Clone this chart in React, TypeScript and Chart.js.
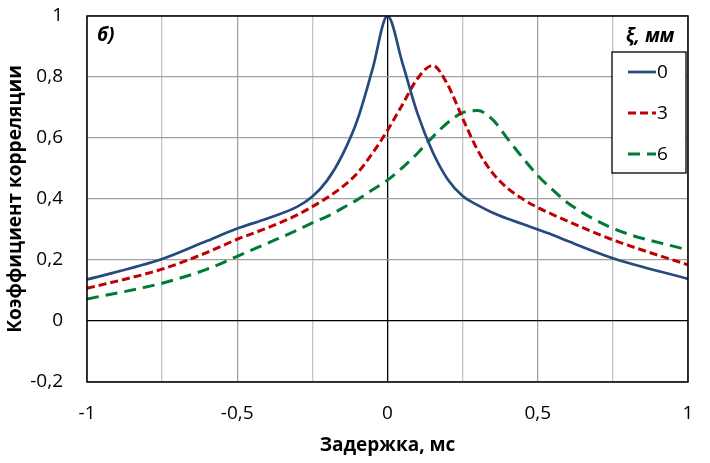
import React, { useRef, useEffect } from 'react';
import { Chart, registerables } from 'chart.js';

Chart.register(...registerables);

// задержка, мс
const delays = [-1, -0.75, -0.6, -0.5, -0.4, -0.3, -0.25, -0.2, -0.15, -0.1, -0.05, 0,
  0.05, 0.1, 0.15, 0.2, 0.25, 0.3, 0.35, 0.4, 0.45, 0.5, 0.55, 0.6, 0.75, 1];

// коэффициент корреляции для xi = 0, 3, 6 мм
const corr0 = [0.136, 0.203, 0.263, 0.303, 0.336, 0.375, 0.408, 0.462, 0.545, 0.66, 0.825, 1.0,
  0.845, 0.68, 0.555, 0.465, 0.41, 0.38, 0.355, 0.335, 0.318, 0.3, 0.282, 0.262, 0.206, 0.138];
const corr3 = [0.107, 0.17, 0.225, 0.268, 0.305, 0.348, 0.375, 0.405, 0.44, 0.485, 0.55, 0.625,
  0.71, 0.795, 0.838, 0.775, 0.665, 0.56, 0.485, 0.435, 0.4, 0.372, 0.349, 0.327, 0.266, 0.184];
const corr6 = [0.072, 0.124, 0.17, 0.212, 0.255, 0.298, 0.322, 0.343, 0.37, 0.398, 0.43, 0.462,
  0.503, 0.55, 0.603, 0.65, 0.683, 0.69, 0.66, 0.597, 0.535, 0.477, 0.43, 0.387, 0.304, 0.232];

const seriesNames = ['0', '3', '6'];
const legendTitle = 'ξ, мм';
const panelLabel = 'б)';
const xTitle = 'Задержка, мс';
const yTitle = 'Коэффициент корреляции';

const FONT = '"Open Sans", "DejaVu Sans", sans-serif';

const fmt = (v: number) => String(Math.round(v * 100) / 100).replace('.', ',');
const isHalfStep = (v: number) => Math.abs(v * 2 - Math.round(v * 2)) < 1e-6;

// рамка области построения
const plotFrame = {
  id: 'plotFrame',
  afterDatasetsDraw(chart: any) {
    const { ctx, chartArea: a } = chart;
    ctx.save();
    ctx.strokeStyle = '#000';
    ctx.lineWidth = 1.5;
    ctx.strokeRect(a.left, a.top, a.right - a.left, a.bottom - a.top);
    ctx.font = `italic bold 19px ${FONT}`;
    ctx.fillStyle = '#000';
    ctx.textBaseline = 'middle';
    ctx.fillText(panelLabel, a.left + 10, a.top + 20);
    ctx.restore();
  },
};

// легенда внутри графика
const insetLegend = {
  id: 'insetLegend',
  afterDraw(chart: any) {
    const { ctx, chartArea: a } = chart;
    const right = a.right - 2;
    const left = right - 74;
    const top = a.top + 36;
    const bottom = a.top + 157;
    ctx.save();
    ctx.fillStyle = '#fff';
    ctx.fillRect(left, top, right - left, bottom - top);
    ctx.strokeStyle = '#000';
    ctx.lineWidth = 1.3;
    ctx.strokeRect(left, top, right - left, bottom - top);
    ctx.fillStyle = '#000';
    ctx.textBaseline = 'middle';
    ctx.textAlign = 'center';
    ctx.font = `italic bold 19px ${FONT}`;
    ctx.fillText(legendTitle, (left + right) / 2 + 1, a.top + 21);
    ctx.font = `19px ${FONT}`;
    ctx.textAlign = 'left';
    chart.data.datasets.forEach((ds: any, i: number) => {
      const y = top + 20 + i * 41;
      ctx.strokeStyle = ds.borderColor;
      ctx.lineWidth = ds.borderWidth;
      ctx.setLineDash(ds.borderDash || []);
      ctx.beginPath();
      ctx.moveTo(left + 16, y);
      ctx.lineTo(left + 44, y);
      ctx.stroke();
      ctx.setLineDash([]);
      ctx.fillText(ds.label, left + 45, y + 1);
    });
    ctx.restore();
  },
};

const CorrelationChart = () => {
  const chartRef = useRef<HTMLCanvasElement>(null);

  useEffect(() => {
    const ctx = chartRef.current!.getContext('2d')!;
    const toPoints = (vals: number[]) => delays.map((x, i) => ({ x, y: vals[i] }));
    const chart = new Chart(ctx, {
      type: 'line',
      data: {
        datasets: [
          { label: seriesNames[0], data: toPoints(corr0), borderColor: '#27497E', borderWidth: 2.7, borderDash: [] },
          { label: seriesNames[1], data: toPoints(corr3), borderColor: '#C00000', borderWidth: 3, borderDash: [8, 4] },
          { label: seriesNames[2], data: toPoints(corr6), borderColor: '#007A37', borderWidth: 3, borderDash: [12, 7] },
        ],
      },
      options: {
        responsive: false,
        animation: false,
        layout: { padding: { top: 16, right: 22, left: 0, bottom: 0 } },
        elements: {
          point: { radius: 0 },
          line: { cubicInterpolationMode: 'monotone', fill: false },
        },
        plugins: {
          legend: { display: false },
          tooltip: { enabled: false },
        },
        scales: {
          x: {
            type: 'linear',
            min: -1,
            max: 1,
            afterFit: (s: any) => { s.height = 81; s.paddingLeft = 0; s.paddingRight = 0; },
            ticks: {
              stepSize: 0.25,
              padding: 20,
              color: '#000',
              font: { family: FONT, size: 19 },
              maxRotation: 0,
              autoSkip: false,
              callback: (v: any) => {
                const n = Math.round(Number(v) * 100) / 100;
                return isHalfStep(n) ? fmt(n) : '';
              },
            },
            grid: {
              drawTicks: false,
              lineWidth: 1.3,
              color: (c: any) => {
                const v = Math.round(c.tick.value * 100) / 100;
                if (v === 0) return '#000';
                return isHalfStep(v) ? '#A0A0A0' : '#C4C4C4';
              },
            },
            border: { display: false },
            title: {
              display: true,
              text: xTitle,
              color: '#000',
              font: { family: FONT, size: 19, weight: 'bold' },
              padding: { top: 0, bottom: 6 },
            },
          },
          y: {
            min: -0.2,
            max: 1,
            afterFit: (s: any) => { s.width = 87; s.paddingTop = 0; s.paddingBottom = 0; },
            ticks: {
              stepSize: 0.2,
              padding: 24,
              color: '#000',
              font: { family: FONT, size: 19 },
              callback: (v: any) => fmt(Number(v)),
            },
            grid: {
              drawTicks: false,
              lineWidth: 1.3,
              color: (c: any) => (Math.abs(c.tick.value) < 1e-6 ? '#000' : '#A0A0A0'),
            },
            border: { display: false },
            title: {
              display: true,
              text: yTitle,
              color: '#000',
              font: { family: FONT, size: 19, weight: 'bold' },
              padding: { top: 4, bottom: 0 },
            },
          },
        },
      },
      plugins: [plotFrame, insetLegend],
    } as any);

    return () => chart.destroy();
  }, []);

  return <canvas ref={chartRef} width={710} height={463}></canvas>;
};

export default function App() {
  return (
    <div style={{ position: 'absolute', left: 0, top: 0, width: 710, height: 463, background: '#fff' }}>
      <CorrelationChart />
    </div>
  );
}
